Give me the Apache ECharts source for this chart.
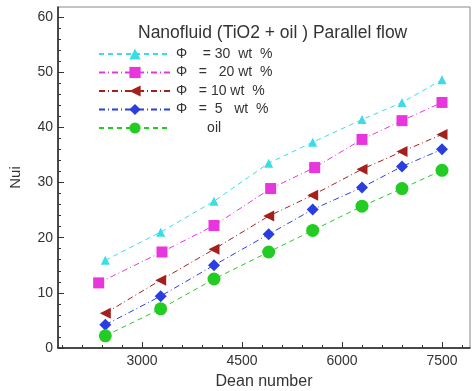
<!DOCTYPE html>
<html><head><meta charset="utf-8">
<script src="https://cdn.jsdelivr.net/npm/echarts@6/dist/echarts.min.js"></script>
<style>html,body{margin:0;padding:0;background:#fff}#c{width:473px;height:391px}</style>
</head><body><div id="c"></div>
<script>
// Dean numbers (x)
const dean = [2450, 3280, 4080, 4900, 5560, 6300, 6900, 7500];
const deanPhi20 = [2350, 3300, 4080, 4930, 5590, 6300, 6900, 7500];
// Nui values
const phi30 = [15.9, 21.0, 26.6, 33.5, 37.3, 41.4, 44.5, 48.6];
const phi20 = [11.8, 17.4, 22.2, 28.9, 32.7, 37.8, 41.2, 44.5];
const phi10 = [6.3, 12.3, 17.9, 23.9, 27.7, 32.4, 35.6, 38.7];
const phi5  = [4.2, 9.4, 15.0, 20.6, 25.1, 29.1, 32.9, 36.0];
const oil   = [2.2, 7.1, 12.5, 17.4, 21.3, 25.7, 28.9, 32.2];
// tick labels
const xLabels = [3000, 4500, 6000, 7500];
const xMinor = [];
for (let v = 1800; v <= 7800; v += 300) if (!xLabels.includes(v)) xMinor.push(v);
const yLabels = [0, 10, 20, 30, 40, 50, 60];
const yMinor = [];
for (let v = 2; v <= 60; v += 2) if (!yLabels.includes(v)) yMinor.push(v);

const names = ['\u03A6    = 30  wt  %', '\u03A6   =   20 wt  %', '\u03A6   = 10 wt  %', '\u03A6   =  5   wt  %', '        oil'];

function pairs(xs, ys) { return xs.map((x, i) => [x, ys[i]]); }

const font = '"Liberation Sans", Arial, sans-serif';
const chart = echarts.init(document.getElementById('c'));
const xBase = { type: 'value', min: 1740, max: 7920, position: 'bottom', splitLine: { show: false } };
const yBase = { type: 'value', min: 0, max: 61.8, position: 'left', splitLine: { show: false } };

function mkSeries(name, data, color, symbol, size, dash, rotate) {
  return {
    name, type: 'line', data, symbol, symbolSize: size, symbolRotate: rotate || 0,
    lineStyle: { color, width: 1, type: dash },
    itemStyle: { color },
    z: 3
  };
}

chart.setOption({
  animation: false,
  textStyle: { fontFamily: font },
  title: {
    text: 'Nanofluid (TiO2 + oil ) Parallel flow',
    left: 133, top: 19,
    textStyle: { fontSize: 17.5, fontWeight: 'normal', color: '#333', fontFamily: font }
  },
  legend: {
    orient: 'vertical', left: 93, top: 42,
    itemWidth: 72, itemHeight: 14, itemGap: 4.5,
    textStyle: { fontSize: 14, lineHeight: 14, color: '#333', fontFamily: font },
    data: names
  },
  grid: { left: 58, right: 3, top: 7, bottom: 43, show: true, borderColor: '#888', borderWidth: 1,
          containLabel: false, outerBoundsMode: 'none' },
  xAxis: [
    Object.assign({}, xBase, {
      name: 'Dean number', nameLocation: 'middle', nameGap: 26,
      nameTextStyle: { fontSize: 16, color: '#333', fontFamily: font },
      axisLine: { lineStyle: { color: '#222', width: 1.5 } },
      axisTick: { inside: true, length: 6, customValues: xLabels, lineStyle: { color: '#333' } },
      axisLabel: { customValues: xLabels, fontSize: 14, color: '#333', margin: 6, formatter: v => String(v) }
    }),
    Object.assign({}, xBase, {
      axisLine: { show: false },
      axisTick: { inside: true, length: 3, customValues: xMinor, lineStyle: { color: '#333' } },
      axisLabel: { show: false }
    })
  ],
  yAxis: [
    Object.assign({}, yBase, {
      name: 'Nui', nameLocation: 'middle', nameGap: 35, nameRotate: 90,
      nameTextStyle: { fontSize: 15, color: '#333', fontFamily: font },
      axisLine: { lineStyle: { color: '#222', width: 1.5 } },
      axisTick: { inside: true, length: 6, customValues: yLabels, lineStyle: { color: '#333' } },
      axisLabel: { customValues: yLabels, fontSize: 14, color: '#333', margin: 5, formatter: v => String(v) }
    }),
    Object.assign({}, yBase, {
      axisLine: { show: false },
      axisTick: { inside: true, length: 3, customValues: yMinor, lineStyle: { color: '#333' } },
      axisLabel: { show: false }
    })
  ],
  series: [
    mkSeries(names[0], pairs(dean, phi30), '#38dde6', 'triangle', 9, [5, 4]),
    mkSeries(names[1], pairs(deanPhi20, phi20), '#e636dc', 'rect', 11, [6, 3, 1, 3]),
    mkSeries(names[2], pairs(dean, phi10), '#a3201c', 'triangle', 11, [6, 3, 1, 3], 90),
    mkSeries(names[3], pairs(dean, phi5), '#2a3ee0', 'diamond', 12, [6, 3, 1, 3]),
    mkSeries(names[4], pairs(dean, oil), '#22cc22', 'circle', 13, [5, 4])
  ]
});
</script></body></html>
